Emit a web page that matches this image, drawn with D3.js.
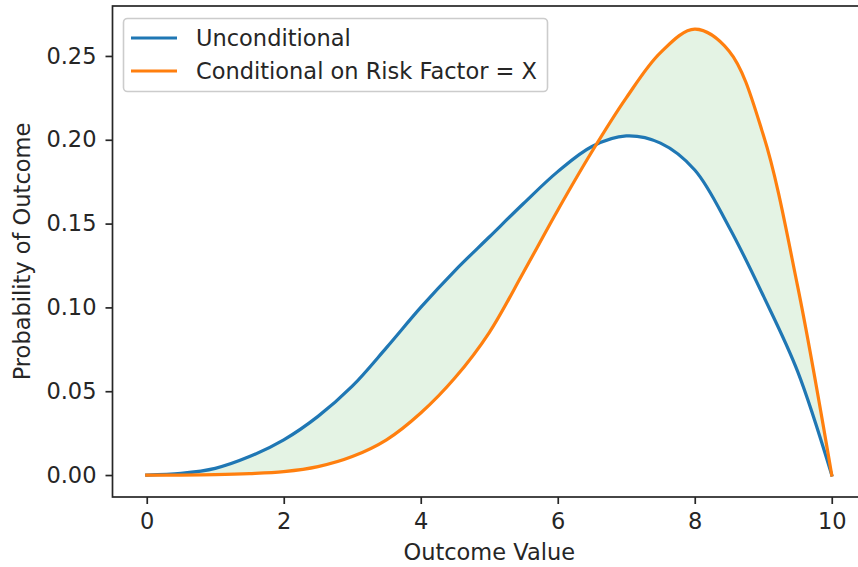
<!DOCTYPE html>
<html>
<head>
<meta charset="utf-8">
<script src="https://cdn.jsdelivr.net/npm/d3@7"></script>
<style>
  body { margin: 0; background: #fff; }
  svg text { font-family: "DejaVu Sans", sans-serif; fill: #262626; }
  .axis text { font-size: 22.5px; }
  .axis path, .axis line { stroke: #262626; stroke-width: 1.7px; }
  .chartaxislabel { font-size: 22.5px; }
</style>
</head>
<body>
<div id="chart"></div>
<script>
// outcome values (x) and the two densities
var outcomeValues = [0, 0.5, 1, 1.5, 2, 2.5, 3, 3.5, 4, 4.5, 5, 5.5, 6, 6.5, 7, 7.5, 8, 8.5, 9, 9.5, 10];
var unconditional = [0, 0.001, 0.004, 0.011, 0.021, 0.035, 0.053, 0.076, 0.100, 0.122, 0.142, 0.162, 0.181, 0.196, 0.2023, 0.198, 0.182, 0.148, 0.107, 0.062, 0];
var conditional = [0, 0, 0.0002, 0.0008, 0.002, 0.005, 0.011, 0.021, 0.037, 0.058, 0.085, 0.121, 0.158, 0.193, 0.225, 0.252, 0.266, 0.253, 0.203, 0.113, 0];
var xTicks = [0, 2, 4, 6, 8, 10];
var yTicks = [0, 0.05, 0.10, 0.15, 0.20, 0.25];
var seriesNames = ['Unconditional', 'Conditional on Risk Factor = X'];
var colors = ['#1f77b4', '#ff7f0e'];

var w = 858, h = 567;
// plot box (note: "top" is reserved on window, so padTop etc.)
var padLeft = 112.5, padRight = 866, padTop = 6, padBottom = 497;

var data = outcomeValues.map(function(d, i) {
    return {x: d, u: unconditional[i], c: conditional[i]};
});

var xScale = d3.scaleLinear()
    .domain([-0.5, 10.5])
    .range([padLeft, padRight]);

var yScale = d3.scaleLinear()
    .domain([-0.0131, 0.2798])
    .range([padBottom, padTop]);

var svg = d3.select('#chart')
    .append('svg')
    .attr('width', w)
    .attr('height', h);

var curve = d3.curveCatmullRom.alpha(0.5);

// shaded gap between the curves
var area = d3.area()
    .curve(curve)
    .x(function(d) { return xScale(d.x); })
    .y0(function(d) { return yScale(d.u); })
    .y1(function(d) { return yScale(d.c); });

svg.append('path')
    .datum(data)
    .attr('d', area)
    .attr('fill', '#2ca02c')
    .attr('fill-opacity', 0.13);

var keys = ['u', 'c'];
keys.forEach(function(k, i) {
    var line = d3.line()
        .curve(curve)
        .x(function(d) { return xScale(d.x); })
        .y(function(d) { return yScale(d[k]); });
    svg.append('path')
        .datum(data)
        .attr('d', line)
        .attr('fill', 'none')
        .attr('stroke', colors[i])
        .attr('stroke-width', 3.2)
        .attr('stroke-linecap', 'square');
});

var xAxis = d3.axisBottom(xScale)
    .tickValues(xTicks)
    .tickSize(7)
    .tickPadding(9)
    .tickFormat(d3.format('d'));

var yAxis = d3.axisLeft(yScale)
    .tickValues(yTicks)
    .tickSize(7)
    .tickPadding(9)
    .tickFormat(d3.format('.2f'));

svg.append('g')
    .attr('class', 'x axis')
    .attr('transform', 'translate(0,' + padBottom + ')')
    .call(xAxis)
    .call(function(g) { g.select('.domain').remove(); });

svg.append('g')
    .attr('class', 'y axis')
    .attr('transform', 'translate(' + padLeft + ',0)')
    .call(yAxis)
    .call(function(g) { g.select('.domain').remove(); });

// frame
svg.append('rect')
    .attr('x', padLeft)
    .attr('y', padTop)
    .attr('width', padRight - padLeft)
    .attr('height', padBottom - padTop)
    .attr('fill', 'none')
    .attr('stroke', '#262626')
    .attr('stroke-width', 1.7);

svg.selectAll('.axis text').attr('fill', '#262626');

svg.append('text')
    .attr('class', 'chartaxislabel')
    .attr('x', xScale(5))
    .attr('y', 560)
    .style('text-anchor', 'middle')
    .text('Outcome Value');

svg.append('text')
    .attr('class', 'chartaxislabel')
    .attr('transform', 'rotate(-90)')
    .attr('x', -(padTop + padBottom) / 2)
    .attr('y', 30)
    .style('text-anchor', 'middle')
    .text('Probability of Outcome');

// legend
var legend = svg.append('g');
legend.append('rect')
    .attr('x', 123.5)
    .attr('y', 18.5)
    .attr('width', 424)
    .attr('height', 73)
    .attr('rx', 4)
    .attr('fill', '#fff')
    .attr('fill-opacity', 0.8)
    .attr('stroke', '#cccccc')
    .attr('stroke-width', 1.6);

legend.selectAll('line.key')
    .data(seriesNames)
    .enter()
    .append('line')
    .attr('x1', 131)
    .attr('x2', 177)
    .attr('y1', function(d, i) { return 38 + 33 * i; })
    .attr('y2', function(d, i) { return 38 + 33 * i; })
    .attr('stroke', function(d, i) { return colors[i]; })
    .attr('stroke-width', 3.2);

legend.selectAll('text.key')
    .data(seriesNames)
    .enter()
    .append('text')
    .attr('x', 196)
    .attr('y', function(d, i) { return 38 + 33 * i; })
    .attr('dy', '0.35em')
    .style('font-size', '22.5px')
    .text(function(d) { return d; });
</script>
</body>
</html>
